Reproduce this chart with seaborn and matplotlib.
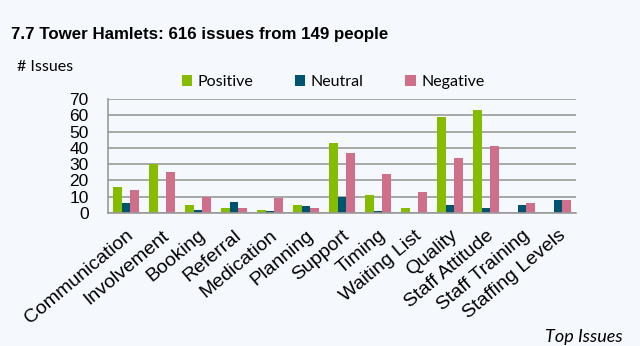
import matplotlib
matplotlib.use("Agg")
import matplotlib.pyplot as plt
import seaborn as sns
import pandas as pd
from matplotlib.patches import Patch

categories = ["Communication", "Involvement", "Booking", "Referral", "Medication",
              "Planning", "Support", "Timing", "Waiting List", "Quality",
              "Staff Attitude", "Staff Training", "Staffing Levels"]
positive = [16, 30, 5, 3, 2, 5, 43, 11, 3, 59, 63, 0, 0]
neutral = [6, 0, 2, 7, 1, 4, 10, 1, 0, 5, 3, 5, 8]
negative = [14, 25, 10, 3, 9, 3, 37, 24, 13, 34, 41, 6, 8]
series = ["Positive", "Neutral", "Negative"]
colors = ["#86bc00", "#005470", "#d06f89"]
yticks = [0, 10, 20, 30, 40, 50, 60, 70]

bg = "#f5f9fd"
grid_col = "#999999"
sns.set_theme(style="white")
plt.rcParams["font.family"] = ["Liberation Sans", "DejaVu Sans"]
plt.rcParams["text.color"] = "black"
plt.rcParams["xtick.color"] = "black"
plt.rcParams["ytick.color"] = "black"

df = pd.DataFrame({
    "Issue": categories * 3,
    "Sentiment": [s for s in series for _ in categories],
    "Count": positive + neutral + negative,
})

fig = plt.figure(figsize=(6.4, 3.46), dpi=100, facecolor=bg)
ax = fig.add_axes([108 / 640, 1 - 213 / 346, 468 / 640, 114 / 346])
ax.set_facecolor(bg)

sns.barplot(data=df, x="Issue", y="Count", hue="Sentiment", hue_order=series,
            palette=colors, width=0.7, gap=0, ax=ax, legend=False,
            saturation=1, edgecolor="none")

ax.set_ylim(0, 70)
ax.set_xlim(-0.5, len(categories) - 0.5)
ax.set_yticks(yticks)
ax.set_yticklabels([str(v) for v in yticks], fontsize=12.5)
ax.yaxis.grid(True, color=grid_col, linewidth=1.2)
ax.set_axisbelow(True)
for side in ["top", "right"]:
    ax.spines[side].set_visible(False)
for side in ["left", "bottom"]:
    ax.spines[side].set_color(grid_col)
    ax.spines[side].set_linewidth(1.2)
ax.tick_params(axis="y", length=6, width=1.2, color=grid_col, direction="out", pad=8)

# category labels sit at centres, separator ticks at the boundaries
ax.set_xticks(range(len(categories)))
ax.set_xticklabels(categories, rotation=40, ha="right", rotation_mode="anchor",
                   fontsize=14)
ax.tick_params(axis="x", length=0, pad=10)
ax.set_xticks([i - 0.5 for i in range(len(categories) + 1)], minor=True)
ax.tick_params(axis="x", which="minor", length=5, width=1.2, color=grid_col,
               direction="out")
ax.set_xlabel("")
ax.set_ylabel("")

fig.text(11 / 640, 1 - 34 / 346, "7.7 Tower Hamlets: 616 issues from 149 people",
         fontsize=12.2, fontweight="bold", va="center", ha="left")
fig.text(17 / 640, 1 - 67 / 346, "# Issues", fontsize=11.5, va="center",
         ha="left", family=["Lato", "DejaVu Sans"])
fig.text(623 / 640, 1 - 337 / 346, "Top Issues", fontsize=13, va="center",
         ha="right", style="italic", family=["Lato", "DejaVu Sans"])

handles = [Patch(facecolor=c, edgecolor="none", label=s) for s, c in zip(series, colors)]
fig.legend(handles=handles, loc="center", bbox_to_anchor=(333 / 640, 1 - 82 / 346),
           ncol=3, frameon=False, handlelength=0.65, handleheight=0.65,
           handletextpad=0.35, columnspacing=2.6, prop={"family": "Lato", "size": 11.5})

fig.savefig("out.png", dpi=100, facecolor=bg)
